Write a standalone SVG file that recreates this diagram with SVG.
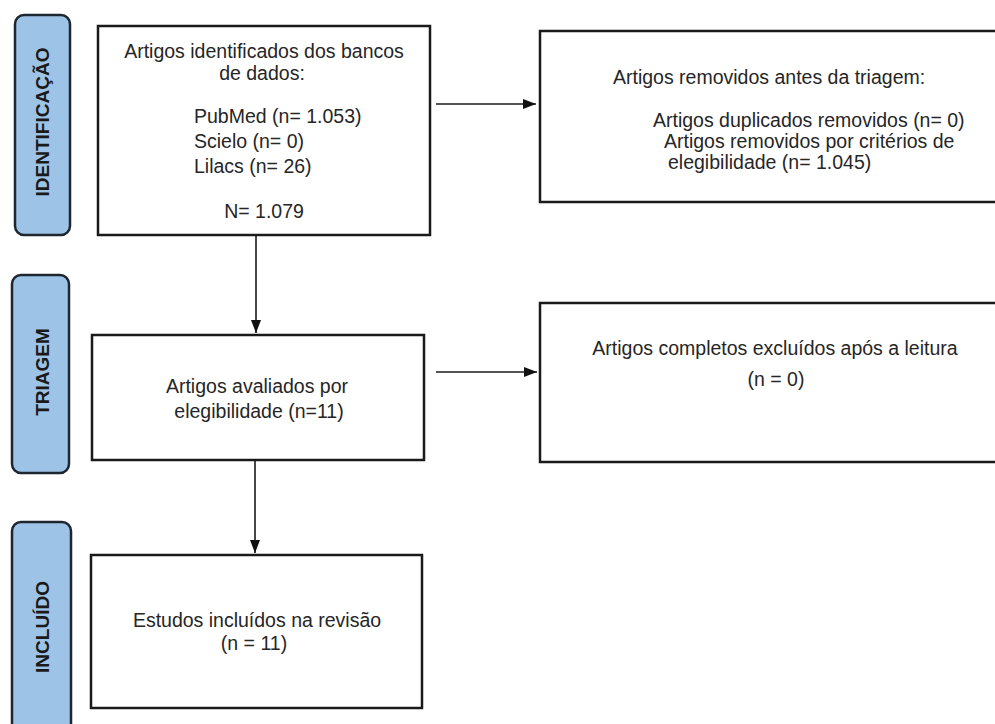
<svg xmlns="http://www.w3.org/2000/svg" width="995" height="724" viewBox="0 0 995 724">
<defs>
<marker id="ah" markerWidth="13" markerHeight="10" refX="13" refY="5" orient="auto" markerUnits="userSpaceOnUse">
<path d="M0,0 L13,5 L0,10 Z" fill="#111"/>
</marker>
<style>
.lbl{fill:#9dc3e6;stroke:#1e2730;stroke-width:2.5}
.box{fill:#fff;stroke:#1a1a1a;stroke-width:2.5}
.t{font-family:"Liberation Sans",Arial,sans-serif;font-size:19.5px;fill:#262626}
.c{text-anchor:middle}
.v{font-family:"Liberation Sans",Arial,sans-serif;font-size:19px;font-weight:bold;fill:#1a1a1a;text-anchor:middle}
.e{stroke:#1a1a1a;stroke-width:1.6;fill:none;marker-end:url(#ah)}
</style>
</defs>
<rect width="995" height="724" fill="#fff"/>
<g id="stage-identificacao">
<rect class="lbl" x="15" y="15" width="55" height="220" rx="9"/>
<text class="v" transform="translate(49,122) rotate(-90)">IDENTIFICAÇÃO</text>
</g>
<g id="stage-triagem">
<rect class="lbl" x="12" y="275" width="57" height="198" rx="9"/>
<text class="v" transform="translate(49,372) rotate(-90)">TRIAGEM</text>
</g>
<g id="stage-incluido">
<rect class="lbl" x="12" y="522" width="59" height="215" rx="9"/>
<text class="v" transform="translate(49,627) rotate(-90)">INCLUÍDO</text>
</g>
<g id="identificados">
<rect class="box" x="98" y="26" width="332" height="209"/>
<text class="t c" x="264" y="58">Artigos identificados dos bancos</text>
<text class="t c" x="262" y="80">de dados:</text>
<text class="t" x="194" y="123">PubMed (n= 1.053)</text>
<text class="t" x="194" y="148">Scielo (n= 0)</text>
<text class="t" x="194" y="173">Lilacs (n= 26)</text>
<text class="t c" x="264" y="218">N= 1.079</text>
</g>
<g id="removidos">
<rect class="box" x="540" y="31" width="470" height="171"/>
<text class="t" x="613" y="84">Artigos removidos antes da triagem:</text>
<text class="t" x="653" y="127">Artigos duplicados removidos (n= 0)</text>
<text class="t" x="664" y="148">Artigos removidos por critérios de</text>
<text class="t" x="668" y="169">elegibilidade (n= 1.045)</text>
</g>
<g id="avaliados">
<rect class="box" x="92" y="335" width="332" height="125"/>
<text class="t c" x="257" y="393">Artigos avaliados por</text>
<text class="t c" x="259" y="418">elegibilidade (n=11)</text>
</g>
<g id="excluidos">
<rect class="box" x="540" y="303" width="470" height="159"/>
<text class="t c" x="775" y="355">Artigos completos excluídos após a leitura</text>
<text class="t c" x="776" y="386">(n = 0)</text>
</g>
<g id="incluidos">
<rect class="box" x="91" y="555" width="331" height="153"/>
<text class="t c" x="257" y="627">Estudos incluídos na revisão</text>
<text class="t c" x="254" y="650">(n = 11)</text>
</g>
<g id="connectors">
<line class="e" x1="256" y1="236" x2="256" y2="333"/>
<line class="e" x1="255" y1="461" x2="255" y2="553"/>
<line class="e" x1="436" y1="104" x2="536" y2="104"/>
<line class="e" x1="436" y1="372" x2="537" y2="372"/>
</g>
</svg>
